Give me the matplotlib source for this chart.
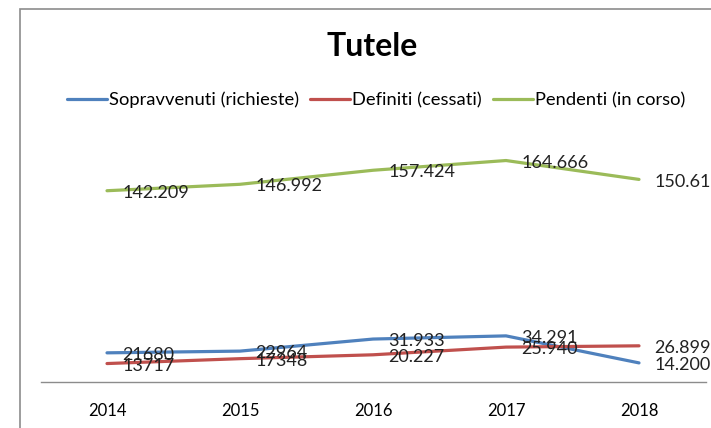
import matplotlib
matplotlib.use("Agg")
import matplotlib.pyplot as plt
from matplotlib.patches import Rectangle

plt.rcParams['font.family'] = ['Lato', 'DejaVu Sans']

anni = ['2014', '2015', '2016', '2017', '2018']
sopravvenuti = [21680, 22964, 31933, 34291, 14200]
definiti = [13717, 17348, 20227, 25940, 26899]
pendenti = [142209, 146992, 157424, 164666, 150616]

etichette_sopr = ['21680', '22964', '31.933', '34.291', '14.200']
etichette_def = ['13717', '17348', '20.227', '25.940', '26.899']
etichette_pend = ['142.209', '146.992', '157.424', '164.666', '150.616']

serie = [
    ('Sopravvenuti (richieste)', sopravvenuti, etichette_sopr, '#4F81BD'),
    ('Definiti (cessati)', definiti, etichette_def, '#C0504D'),
    ('Pendenti (in corso)', pendenti, etichette_pend, '#9BBB59'),
]

W, H = 711, 428
fig = plt.figure(figsize=(W / 100, H / 100), dpi=100)

# bordo del grafico (tagliato a destra e in basso)
fig.patches.append(Rectangle((20 / W, -0.1), 1.2, 1 - 9 / H + 0.1, transform=fig.transFigure,
                             fill=False, edgecolor='#8c8c8c', linewidth=1.2))

ax = fig.add_axes([40.5 / W, 46 / H, 665 / W, 269 / H])
x = list(range(len(anni)))

for nome, valori, etichette, colore in serie:
    ax.plot(x, valori, color=colore, linewidth=2.3, label=nome, solid_capstyle='round')
    for xi, v, t in zip(x, valori, etichette):
        ax.annotate(t, (xi, v), xytext=(11, -1.5), textcoords='offset points',
                    ha='left', va='center', fontsize=13, color='#222222',
                    annotation_clip=False)

ax.set_xlim(-0.5, 4.5)
ax.set_ylim(0, 200000)
ax.set_xticks(x)
ax.set_xticklabels(anni, fontsize=12)
ax.set_yticks([])
ax.tick_params(axis='x', length=0, pad=15)
for lato in ['top', 'right', 'left']:
    ax.spines[lato].set_visible(False)
ax.spines['bottom'].set_color('#8c8c8c')
ax.spines['bottom'].set_linewidth(1)
ax.patch.set_alpha(0)

fig.text(372 / W, 1 - 47 / H, 'Tutele', ha='center', va='center', fontsize=23, fontweight='bold')

fig.legend(loc='center', bbox_to_anchor=(376 / W, 1 - 100 / H), ncol=3, frameon=False,
           fontsize=13.2, handlelength=2.2, handletextpad=0.1, columnspacing=0.6)

fig.savefig('out.png', dpi=100)
